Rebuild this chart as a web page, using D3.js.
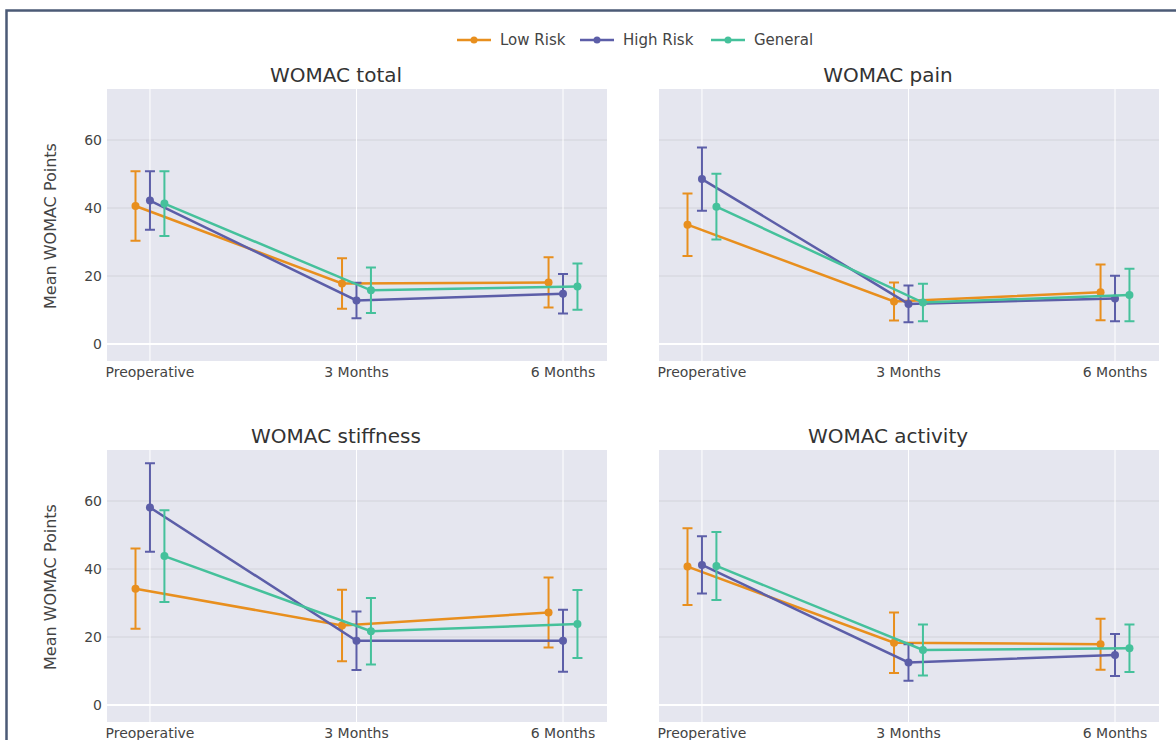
<!DOCTYPE html>
<meta charset="utf-8">
<style>
  body { margin: 0; background: #fff; }
  text { font-family: "DejaVu Sans", Verdana, sans-serif; }
</style>
<script src="https://d3js.org/d3.v7.min.js"></script>
<div id="my_dataviz"></div>
<script>

// categories and groups
var categories = ["Preoperative", "3 Months", "6 Months"];
var groups = ["Low Risk", "High Risk", "General"];
var titles = ["WOMAC total", "WOMAC pain", "WOMAC stiffness", "WOMAC activity"];
var yTicks = [0, 20, 40, 60];

// means: [Low Risk, High Risk, General] for each time point
var totalMean = [[40.6, 17.8, 18.1], [42.2, 12.8, 14.8], [41.3, 15.8, 16.9]];
var totalErr  = [[10.2, 7.4, 7.4], [8.6, 5.2, 5.8], [9.5, 6.7, 6.8]];

var painMean = [[35.1, 12.5, 15.2], [48.5, 11.8, 13.4], [40.4, 12.2, 14.4]];
var painErr  = [[9.2, 5.6, 8.2], [9.3, 5.4, 6.7], [9.7, 5.5, 7.7]];

var stiffMean = [[34.2, 23.4, 27.2], [58.1, 18.9, 18.9], [43.8, 21.7, 23.8]];
var stiffErr  = [[11.8, 10.5, 10.3], [13.0, 8.6, 9.1], [13.5, 9.8, 10.0]];

var activityMean = [[40.7, 18.3, 17.9], [41.2, 12.5, 14.7], [40.9, 16.2, 16.7]];
var activityErr  = [[11.3, 8.9, 7.5], [8.4, 5.4, 6.2], [10.0, 7.5, 7.0]];

var means = [totalMean, painMean, stiffMean, activityMean];
var errs = [totalErr, painErr, stiffErr, activityErr];

var color = d3.scaleOrdinal()
  .domain(groups)
  .range(["#e88f1e", "#5c5ea8", "#45c19b"]);

// small horizontal dodge per group
var dodge = d3.scaleOrdinal().domain(groups).range([-0.07, 0, 0.07]);

var width = 1176, height = 740;
var pw = 500, ph = 272;
var panelPos = [[107, 89], [659, 89], [107, 450], [659, 450]];

var svg = d3.select("#my_dataviz")
  .append("svg")
    .attr("width", width)
    .attr("height", height)
    .style("display", "block");

// dark frame round the figure (only top and left edges show)
svg.append("path")
  .attr("d", "M6.5,740V10.5H1176")
  .attr("fill", "none")
  .attr("stroke", "#4b5a76")
  .attr("stroke-width", 2.5);

var x = d3.scaleLinear().domain([-0.208, 2.213]).range([0, pw]);
var y = d3.scaleLinear().domain([-5, 75]).range([ph, 0]);

var line = d3.line()
  .x(function(d) { return x(d.i); })
  .y(function(d) { return y(d.v); });

titles.forEach(function(title, p) {
  var g = svg.append("g")
    .attr("transform", "translate(" + panelPos[p][0] + "," + panelPos[p][1] + ")");

  g.append("rect")
    .attr("width", pw)
    .attr("height", ph)
    .attr("fill", "#e5e6ef");

  // horizontal grid
  g.selectAll(".hgrid")
    .data(yTicks.filter(function(t) { return t !== 0; }))
    .enter().append("line")
      .attr("x1", 0).attr("x2", pw)
      .attr("y1", function(d) { return y(d); })
      .attr("y2", function(d) { return y(d); })
      .attr("stroke", "#d2d3da")
      .attr("stroke-width", 1);

  // vertical grid
  g.selectAll(".vgrid")
    .data(categories)
    .enter().append("line")
      .attr("x1", function(d, i) { return x(i); })
      .attr("x2", function(d, i) { return x(i); })
      .attr("y1", 0).attr("y2", ph)
      .attr("stroke", "#fff")
      .attr("stroke-width", 1);

  // zero line
  g.append("line")
    .attr("x1", 0).attr("x2", pw)
    .attr("y1", y(0)).attr("y2", y(0))
    .attr("stroke", "#fff")
    .attr("stroke-width", 2);

  // x tick labels
  g.selectAll(".xlab")
    .data(categories)
    .enter().append("text")
      .attr("x", function(d, i) { return x(i); })
      .attr("y", ph + 16)
      .attr("text-anchor", "middle")
      .attr("font-size", 14)
      .attr("fill", "#444")
      .text(function(d) { return d; });

  // y tick labels and axis title only on the left column
  if (p % 2 === 0) {
    g.selectAll(".ylab")
      .data(yTicks)
      .enter().append("text")
        .attr("x", -5)
        .attr("y", function(d) { return y(d) + 5; })
        .attr("text-anchor", "end")
        .attr("font-size", 14)
        .attr("fill", "#444")
        .text(function(d) { return d; });

    g.append("text")
      .attr("transform", "translate(-51," + (ph / 2 + 1) + ") rotate(-90)")
      .attr("text-anchor", "middle")
      .attr("font-size", 16)
      .attr("fill", "#444")
      .text("Mean WOMAC Points");
  }

  // subplot title
  g.append("text")
    .attr("x", pw / 2 - 21)
    .attr("y", -7)
    .attr("text-anchor", "middle")
    .attr("font-size", 20)
    .attr("fill", "#333")
    .text(title);

  // one trace per group: error bars, line, markers
  groups.forEach(function(grp, k) {
    var pts = categories.map(function(c, i) {
      return { i: i + dodge(grp), v: means[p][k][i], e: errs[p][k][i] };
    });
    var tg = g.append("g");

    tg.selectAll(".err")
      .data(pts)
      .enter().append("path")
        .attr("d", function(d) {
          var cx = x(d.i), t = y(d.v + d.e), b = y(d.v - d.e);
          return "M" + cx + "," + t + "V" + b +
                 "M" + (cx - 5) + "," + t + "H" + (cx + 5) +
                 "M" + (cx - 5) + "," + b + "H" + (cx + 5);
        })
        .attr("fill", "none")
        .attr("stroke", color(grp))
        .attr("stroke-width", 2);

    tg.append("path")
      .attr("d", line(pts))
      .attr("fill", "none")
      .attr("stroke", color(grp))
      .attr("stroke-width", 2.5);

    tg.selectAll(".dot")
      .data(pts)
      .enter().append("circle")
        .attr("cx", function(d) { return x(d.i); })
        .attr("cy", function(d) { return y(d.v); })
        .attr("r", 4)
        .attr("fill", color(grp));
  });
});

// legend across the top
var legend = svg.append("g").attr("transform", "translate(457,40)");
var legX = [0, 123, 254];
groups.forEach(function(grp, k) {
  var lg = legend.append("g").attr("transform", "translate(" + legX[k] + ",0)");
  lg.append("line")
    .attr("x1", 0).attr("x2", 34)
    .attr("stroke", color(grp))
    .attr("stroke-width", 2.5);
  lg.append("circle")
    .attr("cx", 17).attr("r", 3.5)
    .attr("fill", color(grp));
  lg.append("text")
    .attr("x", 43)
    .attr("y", 5)
    .attr("font-size", 15)
    .attr("fill", "#444")
    .text(grp);
});

</script>
